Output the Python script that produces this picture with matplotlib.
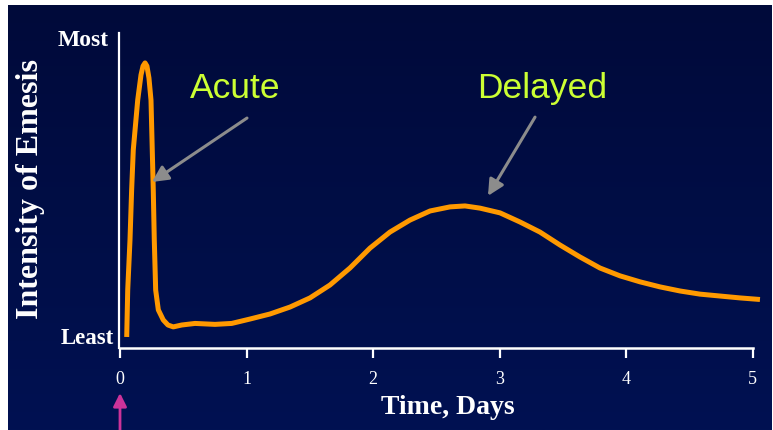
import numpy as np
import matplotlib
matplotlib.use("Agg")
import matplotlib.pyplot as plt

# curve: time in days, intensity 0 (least) .. 100 (most)
days = [0.053, 0.061, 0.079, 0.092, 0.105, 0.140, 0.166, 0.182, 0.198, 0.213,
        0.229, 0.245, 0.255, 0.263, 0.271, 0.282, 0.303, 0.342, 0.379, 0.421,
        0.488, 0.593, 0.751, 0.883, 1.028, 1.186, 1.344, 1.502, 1.660, 1.818,
        1.976, 2.134, 2.292, 2.451, 2.609, 2.727, 2.846, 3.004, 3.162, 3.320,
        3.478, 3.636, 3.794, 3.953, 4.111, 4.269, 4.427, 4.585, 4.743, 4.901,
        5.059]
intensity = [3.5, 18.4, 34.3, 50.2, 62.9, 78.7, 86.7, 89.5, 90.5, 89.5,
             85.7, 78.7, 62.9, 50.2, 34.3, 18.4, 12.1, 8.9, 7.3, 6.7,
             7.3, 7.8, 7.5, 7.8, 9.2, 10.8, 13.0, 15.9, 20.0, 25.4,
             31.7, 36.8, 40.6, 43.5, 44.8, 45.1, 44.4, 42.9, 40.0, 36.8,
             32.7, 28.9, 25.4, 22.9, 21.0, 19.4, 18.1, 17.1, 16.5, 15.9,
             15.4]
ticks = [0, 1, 2, 3, 4, 5]

fig = plt.figure(figsize=(7.73, 4.30), dpi=100)
fig.patch.set_facecolor("white")

# dark blue slide background with a soft vertical gradient
bg = fig.add_axes([8 / 773, 0, 763 / 773, 425 / 430])
grad = np.linspace(0, 1, 256).reshape(-1, 1)
cmap = matplotlib.colors.LinearSegmentedColormap.from_list("slide", ["#000a3a", "#001152"])
bg.imshow(grad, aspect="auto", cmap=cmap, extent=[0, 1, 0, 1], origin="upper")
bg.axis("off")
bg.set_zorder(0)

ax = fig.add_axes([119 / 773, 82 / 430, 646 / 773, 315 / 430])
ax.set_zorder(1)
ax.patch.set_alpha(0)
ax.set_xlim(-1 / 126.5, 645 / 126.5)
ax.set_ylim(0, 100)

ax.plot(days, intensity, color="#ff9900", lw=3.6, solid_joinstyle="round",
        solid_capstyle="butt", clip_on=False)

for s in ["top", "right"]:
    ax.spines[s].set_visible(False)
ax.spines["left"].set_color("white")
ax.spines["bottom"].set_color("white")
ax.spines["left"].set_linewidth(1.6)
ax.spines["bottom"].set_linewidth(1.8)
ax.spines["bottom"].set_bounds(0, 5)

ax.set_xticks(ticks)
ax.set_xticklabels([str(t) for t in ticks], family="Liberation Serif", fontsize=13, color="white")
ax.tick_params(axis="x", direction="out", length=7.5, width=1.6, color="white", pad=9)
ax.set_yticks([])

ax.text(-0.09, 97.5, "Most", ha="right", va="center", color="white",
        family="Liberation Serif", fontweight="bold", fontsize=17)
ax.text(-0.05, 3.0, "Least", ha="right", va="center", color="white",
        family="Liberation Serif", fontweight="bold", fontsize=16.5)
fig.text(448 / 773, 1 - 407 / 430, "Time, Days", ha="center", va="center", color="white",
         family="Liberation Serif", fontweight="bold", fontsize=20)
fig.text(31 / 773, 1 - 189 / 430, "Intensity of Emesis", rotation=90, ha="center",
         va="center", color="white", family="Liberation Serif", fontweight="bold", fontsize=23)

lab = "#ccff33"
ax.text(0.91, 82.5, "Acute", ha="center", va="center", color=lab,
        family="Liberation Sans", fontsize=25.5)
ax.text(3.34, 82.5, "Delayed", ha="center", va="center", color=lab,
        family="Liberation Sans", fontsize=25.5)

arr = dict(arrowstyle="-|>", color="#8c8c8c", lw=2.2, mutation_scale=24, shrinkA=0, shrinkB=0)
ax.annotate("", xy=(0.253, 52.7), xytext=(1.004, 73.0), arrowprops=arr)
ax.annotate("", xy=(2.909, 48.3), xytext=(3.281, 73.3), arrowprops=arr)

# magenta marker under time zero
ax.annotate("", xy=(0, 37), xytext=(0, 0), xycoords=("data", "figure pixels"),
            textcoords=("data", "figure pixels"),
            arrowprops=dict(arrowstyle="-|>", color="#cc3399", lw=2, mutation_scale=20,
                            shrinkA=0, shrinkB=0))

fig.savefig("out.png", dpi=100, facecolor=fig.get_facecolor())
